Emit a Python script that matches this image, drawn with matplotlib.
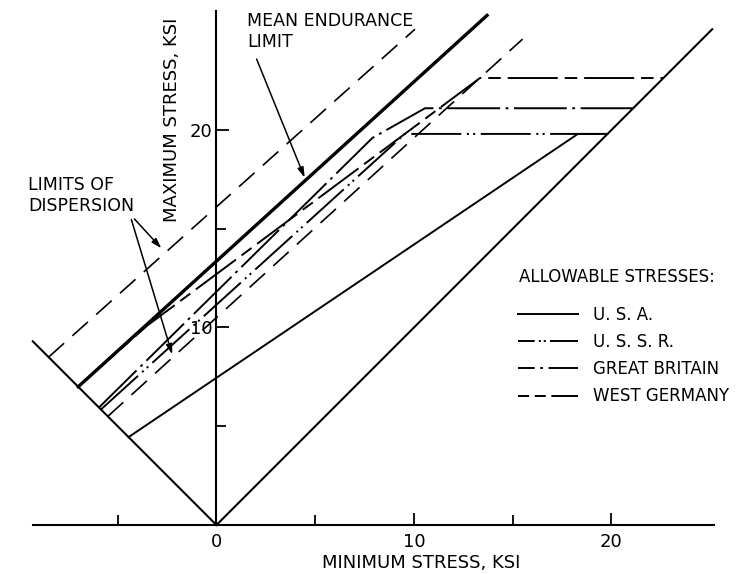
import matplotlib
matplotlib.use("Agg")
import matplotlib.pyplot as plt
from matplotlib.lines import Line2D

plt.rcParams['lines.scale_dashes'] = False
plt.rcParams['font.family'] = ['DejaVu Sans']

# lines, (min stress, max stress) in ksi
mean_x = [-7.0, 13.7]
mean_y = [7.0, 25.8]
upper_x = [-8.5, 10.05]
upper_y = [8.5, 25.1]
lower_x = [-5.5, 15.5]
lower_y = [5.5, 24.6]

usa_x = [-4.45, 18.3, 19.8]
usa_y = [4.45, 19.8, 19.8]
ussr_x = [-5.85, 9.54, 19.8]
ussr_y = [5.85, 19.8, 19.8]
gb_x = [-5.95, 7.9, 10.56, 21.1]
gb_y = [5.95, 19.6, 21.1, 21.1]
wg_x = [-7.0, -3.5, 13.34, 22.63]
wg_y = [7.0, 10.1, 22.63, 22.63]

# boundaries: fully reversed (max = -min) and static (max = min)
rev_x = [-9.3, 0]
rev_y = [9.3, 0]
static_x = [0, 25.1]
static_y = [0, 25.1]

countries = ['U. S. A.', 'U. S. S. R.', 'GREAT BRITAIN', 'WEST GERMANY']
x_ticks = [0, 10, 20]
x_minor = [-5, 5, 15]
y_ticks = [10, 20]
y_minor = [5, 15]

# dash patterns
usa_ls = '-'
ussr_ls = (0, (36, 4, 1.5, 3, 1.5, 4))
gb_ls = (0, (38, 4, 2, 4))
wg_ls = (0, (36, 5, 9, 5))
disp_ls = (0, (15, 8))

fig = plt.figure(figsize=(7.42, 5.74), dpi=100)
ax = fig.add_axes([0, 0, 1, 1])
ax.set_xlim(-10.96, 26.61)
ax.set_ylim(-2.48, 26.58)

lw = 1.4
ax.plot(rev_x, rev_y, color='black', lw=1.5)
ax.plot(static_x, static_y, color='black', lw=1.5)
ax.plot(mean_x, mean_y, color='black', lw=2.4)
ax.plot(upper_x, upper_y, color='black', lw=1.2, linestyle=disp_ls)
ax.plot(lower_x, lower_y, color='black', lw=1.2, linestyle=disp_ls)
ax.plot(usa_x, usa_y, color='black', lw=lw, linestyle=usa_ls)
ax.plot(ussr_x, ussr_y, color='black', lw=lw, linestyle=ussr_ls)
ax.plot(gb_x, gb_y, color='black', lw=lw, linestyle=gb_ls)
ax.plot(wg_x, wg_y, color='black', lw=lw, linestyle=wg_ls)

# axes through the origin
for side in ['top', 'right']:
    ax.spines[side].set_visible(False)
ax.spines['left'].set_position(('data', 0))
ax.spines['bottom'].set_position(('data', 0))
ax.spines['left'].set_bounds(0, 26.0)
ax.spines['bottom'].set_bounds(-9.3, 25.2)
ax.spines['left'].set_linewidth(1.5)
ax.spines['bottom'].set_linewidth(1.5)

ax.set_xticks(x_ticks)
ax.set_xticklabels([str(t) for t in x_ticks])
ax.set_xticks(x_minor, minor=True)
ax.set_yticks(y_ticks)
ax.set_yticklabels([str(t) for t in y_ticks])
ax.set_yticks(y_minor, minor=True)
ax.tick_params(which='major', direction='in', length=9, width=1.3, labelsize=13)
ax.tick_params(which='minor', direction='in', length=7, width=1.3)
ax.tick_params(axis='x', which='major', pad=6)
ax.tick_params(axis='y', which='major', pad=3)

ax.text(10.37, -1.92, 'MINIMUM STRESS, KSI', fontsize=13, ha='center', va='center')
ax.text(-2.23, 20.5, 'MAXIMUM STRESS, KSI', fontsize=13, ha='center', va='center', rotation=90)

# annotations
ax.text(1.55, 25.95, 'MEAN ENDURANCE\nLIMIT', fontsize=12.5, ha='left', va='top', linespacing=1.2)
arrow = dict(arrowstyle='-|>,head_length=0.6,head_width=0.18', color='black', lw=1.1)
ax.annotate('', xy=(4.52, 17.45), xytext=(1.98, 23.72), arrowprops=arrow)

ax.text(-9.55, 17.65, 'LIMITS OF\nDISPERSION', fontsize=12.5, ha='left', va='top', linespacing=1.2)
ax.annotate('', xy=(-2.69, 13.9), xytext=(-4.25, 15.6), arrowprops=arrow)
ax.annotate('', xy=(-2.2, 8.5), xytext=(-4.35, 15.6), arrowprops=arrow)

# legend
ax.text(0.7, 1 - 277 / 574, 'ALLOWABLE STRESSES:', transform=ax.transAxes,
        fontsize=12, ha='left', va='center')
handles = [
    Line2D([], [], color='black', lw=lw, linestyle='-'),
    Line2D([], [], color='black', lw=lw, linestyle=(0, (12, 3, 1.5, 2, 1.5, 3, 30))),
    Line2D([], [], color='black', lw=lw, linestyle=(0, (12, 4, 2, 4, 30))),
    Line2D([], [], color='black', lw=lw, linestyle=(0, (8, 4, 8, 4, 30))),
]
ax.legend(handles, countries, loc='upper left', bbox_to_anchor=(518 / 742, 1 - 306 / 574),
          frameon=False, fontsize=12, handlelength=3.6, handletextpad=0.9,
          labelspacing=0.55, borderpad=0, borderaxespad=0)

fig.savefig('out.png', dpi=100)
